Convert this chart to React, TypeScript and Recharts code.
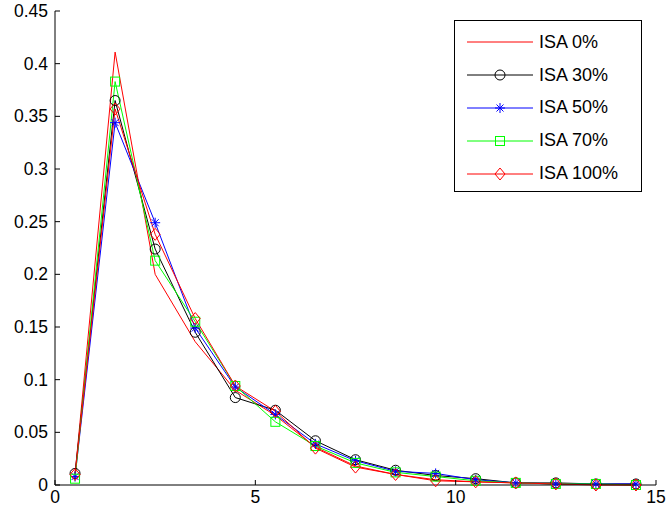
import React from 'react';
import { LineChart, Line, XAxis, YAxis } from 'recharts';

const xs = [0.5, 1.5, 2.5, 3.5, 4.5, 5.5, 6.5, 7.5, 8.5, 9.5, 10.5, 11.5, 12.5, 13.5, 14.5];
const isa0 = [0.01, 0.411, 0.2, 0.136, 0.09, 0.066, 0.036, 0.018, 0.01, 0.005, 0.003, 0.002, 0.001, 0.0005, 0];
const isa30 = [0.011, 0.365, 0.224, 0.145, 0.083, 0.071, 0.042, 0.024, 0.014, 0.009, 0.006, 0.002, 0.002, 0.001, 0.001];
const isa50 = [0.008, 0.344, 0.249, 0.149, 0.093, 0.067, 0.039, 0.023, 0.013, 0.011, 0.005, 0.002, 0.001, 0.001, 0.001];
const isa70 = [0.006, 0.383, 0.213, 0.155, 0.094, 0.06, 0.037, 0.021, 0.012, 0.008, 0.004, 0.002, 0.001, 0.001, 0];
const isa100 = [0.01, 0.357, 0.238, 0.158, 0.094, 0.07, 0.035, 0.017, 0.01, 0.004, 0.003, 0.002, 0.001, 0, 0];

const xTicks = [0, 5, 10, 15];
const yTicks = [0, 0.05, 0.1, 0.15, 0.2, 0.25, 0.3, 0.35, 0.4, 0.45];

const data = xs.map((x, i) => ({
  x,
  isa0: isa0[i],
  isa30: isa30[i],
  isa50: isa50[i],
  isa70: isa70[i],
  isa100: isa100[i],
}));

type Marker = 'none' | 'circle' | 'star' | 'square' | 'diamond';

const series: { key: string; name: string; color: string; marker: Marker }[] = [
  { key: 'isa0', name: 'ISA 0%', color: '#ff0000', marker: 'none' },
  { key: 'isa30', name: 'ISA 30%', color: '#000000', marker: 'circle' },
  { key: 'isa50', name: 'ISA 50%', color: '#0000ff', marker: 'star' },
  { key: 'isa70', name: 'ISA 70%', color: '#00ff00', marker: 'square' },
  { key: 'isa100', name: 'ISA 100%', color: '#ff0000', marker: 'diamond' },
];

const FONT = '"Liberation Sans", Arial, sans-serif';

const markerShape = (marker: Marker, cx: number, cy: number, color: string, k?: any) => {
  if (marker === 'circle') return <circle key={k} cx={cx} cy={cy} r={5} fill="none" stroke={color} strokeWidth={1} />;
  if (marker === 'square') return <rect key={k} x={cx - 4.5} y={cy - 4.5} width={9} height={9} fill="none" stroke={color} strokeWidth={1} />;
  if (marker === 'diamond')
    return <polygon key={k} points={`${cx},${cy - 6} ${cx + 5},${cy} ${cx},${cy + 6} ${cx - 5},${cy}`} fill="none" stroke={color} strokeWidth={1} />;
  if (marker === 'star')
    return (
      <g key={k} stroke={color} strokeWidth={1}>
        <line x1={cx - 5} y1={cy} x2={cx + 5} y2={cy} />
        <line x1={cx} y1={cy - 5} x2={cx} y2={cy + 5} />
        <line x1={cx - 3.5} y1={cy - 3.5} x2={cx + 3.5} y2={cy + 3.5} />
        <line x1={cx - 3.5} y1={cy + 3.5} x2={cx + 3.5} y2={cy - 3.5} />
      </g>
    );
  return <g key={k} />;
};

const YTick = (props: any) => {
  const { x, y, payload } = props;
  const axisX = x + 7;
  return (
    <g>
      <line x1={axisX} y1={y} x2={axisX + 5} y2={y} stroke="#000" strokeWidth={1} />
      <text x={x} y={y} dy="0.35em" textAnchor="end" fontSize={17.5} fontFamily={FONT} fill="#000">
        {payload.value}
      </text>
    </g>
  );
};

const XTick = (props: any) => {
  const { x, y, payload } = props;
  const axisY = y - 6;
  return (
    <g>
      <line x1={x} y1={axisY} x2={x} y2={axisY - 5} stroke="#000" strokeWidth={1} />
      <text x={x} y={y} dy="0.71em" textAnchor="middle" fontSize={17.5} fontFamily={FONT} fill="#000">
        {payload.value}
      </text>
    </g>
  );
};

const LegendBox = () => (
  <div
    style={{
      position: 'absolute',
      left: 454,
      top: 20,
      width: 188,
      height: 172,
      border: '1px solid #000',
      background: '#fff',
      fontFamily: FONT,
      fontSize: 18,
      boxSizing: 'border-box',
      paddingTop: 5,
    }}
  >
    {series.map((s) => (
      <div key={s.key} style={{ display: 'flex', alignItems: 'center', height: 32.8 }}>
        <svg width={84} height={20} style={{ display: 'block' }}>
          <line x1={12} y1={10} x2={78} y2={10} stroke={s.color} strokeWidth={1} />
          {markerShape(s.marker, 45, 10, s.color)}
        </svg>
        <span>{s.name}</span>
      </div>
    ))}
  </div>
);

export default function App() {
  return (
    <div style={{ position: 'absolute', left: 0, top: 0, width: 666, height: 516, background: '#fff' }}>
      <LineChart width={666} height={516} data={data} margin={{ top: 11, right: 10, bottom: 6, left: 0 }}>
        <XAxis
          dataKey="x"
          type="number"
          domain={[0, 15]}
          ticks={xTicks}
          interval={0}
          stroke="#000"
          tickLine={false}
          tickSize={0}
          tickMargin={6}
          height={25}
          tick={<XTick />}
        />
        <YAxis
          type="number"
          domain={[0, 0.45]}
          ticks={yTicks}
          interval={0}
          stroke="#000"
          tickLine={false}
          tickSize={0}
          tickMargin={7}
          width={55}
          tick={<YTick />}
        />
        {series.map((s) => (
          <Line
            key={s.key}
            dataKey={s.key}
            name={s.name}
            type="linear"
            stroke={s.color}
            strokeWidth={1}
            isAnimationActive={false}
            activeDot={false}
            dot={(p: any) => markerShape(s.marker, p.cx, p.cy, s.color, `${s.key}-${p.index}`)}
          />
        ))}
      </LineChart>
      <LegendBox />
    </div>
  );
}
